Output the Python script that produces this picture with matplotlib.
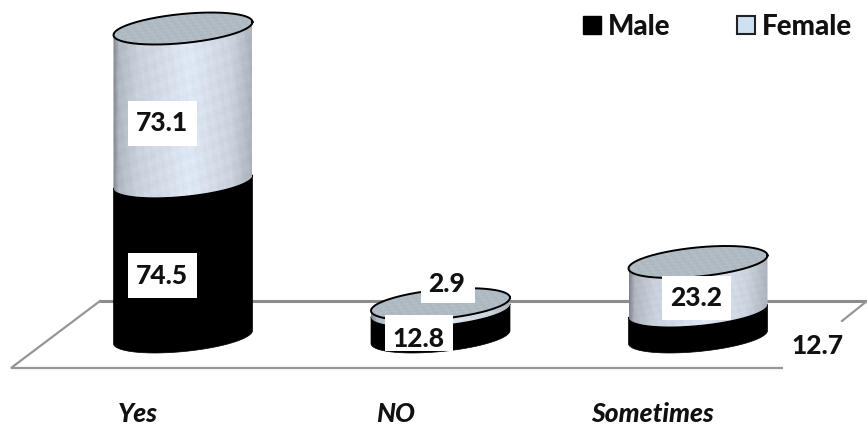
import numpy as np
import matplotlib
matplotlib.use("Agg")
import matplotlib.pyplot as plt
from matplotlib.patches import Patch, PathPatch, Rectangle
from matplotlib.path import Path
from matplotlib.transforms import Affine2D

categories = ["Yes", "NO", "Sometimes"]
male = [74.5, 12.8, 12.7]
female = [73.1, 2.9, 23.2]

# label placement in pixels: centre of the value text, then its white box
male_text_xy = [(162, 276), (418, 339), (818, 346)]
female_text_xy = [(162, 123), (447, 284), (696, 298)]
male_boxes = [(128, 253, 69, 45), (385, 315, 68, 36), (783, 322, 72, 50)]
female_boxes = [(128, 101, 69, 45), (421, 270, 54, 33), (662, 276, 69, 44)]
category_x = [138, 396, 653]

W, H = 867, 429
X_PER_CAT = 257.5
Y_PER_UNIT = 2.09
X0, Y0 = 183.0, 337.0
HALF_W = 69.5 / X_PER_CAT
RADIUS = 14.6 / Y_PER_UNIT
TILT = 6.5 / Y_PER_UNIT
TEXT_COLOR = "#111111"

plt.rcParams["font.family"] = ["Lato", "DejaVu Sans"]

fig = plt.figure(figsize=(W / 100, H / 100), dpi=100)
ax = fig.add_axes([0, 0, 1, 1])

# pixel coordinates with the origin at the top left
px = Affine2D().scale(1, -1).translate(0, H)


def arc(cx, v, t0, t1, n=80):
    t = np.linspace(t0, t1, n)
    return np.column_stack([cx + HALF_W * np.cos(t),
                            v + RADIUS * np.sin(t) + TILT * np.cos(t)])


def mottled(shape, amount):
    yy, xx = np.mgrid[0:1:shape[0] * 1j, 0:1:shape[1] * 1j]
    m = (np.sin(61 * xx + 29 * yy) * np.sin(53 * yy - 37 * xx)
         + 0.6 * np.sin(127 * xx - 83 * yy + 1.3) * np.sin(109 * yy + 71 * xx))
    return amount * m


def body_image():
    # side of the cylinder: dark edges, pale blue centre, faint mottling
    xs = np.linspace(0, 1, 200)
    shade = np.interp(xs, [0, 0.04, 0.18, 0.55, 0.85, 1],
                      [0.52, 0.72, 0.82, 0.91, 0.83, 0.70])
    shade = np.tile(shade, (300, 1)) + mottled((300, 200), 0.015)
    return np.clip(np.dstack([shade * 0.96, shade * 1.0, shade * 1.05]), 0, 1)


def top_image():
    shade = 0.71 + mottled((120, 200), 0.02)
    return np.clip(np.dstack([shade * 0.97, shade * 1.03, shade * 1.08]), 0, 1)


def closed_path(points):
    points = np.vstack([points, points[0]])
    codes = [Path.MOVETO] + [Path.LINETO] * (len(points) - 2) + [Path.CLOSEPOLY]
    return Path(points, codes)


# floor of the chart: heavier along the back edge
ax.plot([867, 100], [301, 301], color="#8c8c8c", lw=2.2, transform=px, zorder=1)
ax.plot([100, 11, 783], [301, 368, 368], color="#969696", lw=1.6, transform=px,
        zorder=1, solid_joinstyle="miter")
ax.plot([867, 842], [301, 321], color="#969696", lw=1.6, transform=px, zorder=1)

for i in range(len(categories)):
    m = male[i]
    f = female[i]
    top = m + f

    # male segment, solid black
    pts = np.vstack([arc(i, 0, np.pi, 2 * np.pi), arc(i, m, 2 * np.pi, np.pi)])
    ax.add_patch(PathPatch(closed_path(pts), fc="black", ec="black", lw=0.5,
                           zorder=3))

    # female segment, textured
    pts = np.vstack([arc(i, m, np.pi, 2 * np.pi), arc(i, top, 2 * np.pi, np.pi)])
    patch = PathPatch(closed_path(pts), fc="none", ec="none", zorder=4)
    ax.add_patch(patch)
    extent = (i - HALF_W, i + HALF_W, m - RADIUS - TILT, top + RADIUS + TILT)
    im = ax.imshow(body_image(), extent=extent, aspect="auto", zorder=4,
                   interpolation="bilinear")
    im.set_clip_path(patch)

    # top face
    pts = arc(i, top, 0, 2 * np.pi, 160)
    cap = PathPatch(closed_path(pts), fc="none", ec="none", zorder=5)
    ax.add_patch(cap)
    extent = (i - HALF_W, i + HALF_W, top - RADIUS - TILT, top + RADIUS + TILT)
    im = ax.imshow(top_image(), extent=extent, aspect="auto", zorder=5,
                   interpolation="bilinear")
    im.set_clip_path(cap)
    ax.plot(pts[:, 0], pts[:, 1], color="black", lw=1.4, zorder=6)

ax.set_xlim(-X0 / X_PER_CAT, (W - X0) / X_PER_CAT)
ax.set_ylim(-(H - Y0) / Y_PER_UNIT, Y0 / Y_PER_UNIT)
ax.axis("off")

# value labels on white boxes
for values, boxes, spots in [(male, male_boxes, male_text_xy),
                             (female, female_boxes, female_text_xy)]:
    for val, box, spot in zip(values, boxes, spots):
        ax.add_patch(Rectangle(box[:2], box[2], box[3], fc="white", ec="none",
                               transform=px, zorder=7))
        ax.text(spot[0], spot[1], f"{val}", transform=px, ha="center",
                va="center", fontsize=19, fontweight=900, color=TEXT_COLOR,
                zorder=8)

for name, x in zip(categories, category_x):
    ax.text(x, 414, name, transform=px, ha="center", va="center", fontsize=19,
            fontweight=900, fontstyle="italic", color=TEXT_COLOR)

handles = [Patch(fc="black", ec="black", label="Male"),
           Patch(fc="#cfe0f3", ec="#222222", lw=1.5, label="Female")]
ax.legend(handles=handles, ncol=2, frameon=False,
          prop={"weight": 900, "size": 20}, handlelength=0.63,
          handleheight=0.63, handletextpad=0.25, columnspacing=2.42,
          labelcolor=TEXT_COLOR, loc="upper right",
          bbox_to_anchor=(852 / W, 1 - 14 / H), borderaxespad=0, borderpad=0)

fig.savefig("out.png", dpi=100)
